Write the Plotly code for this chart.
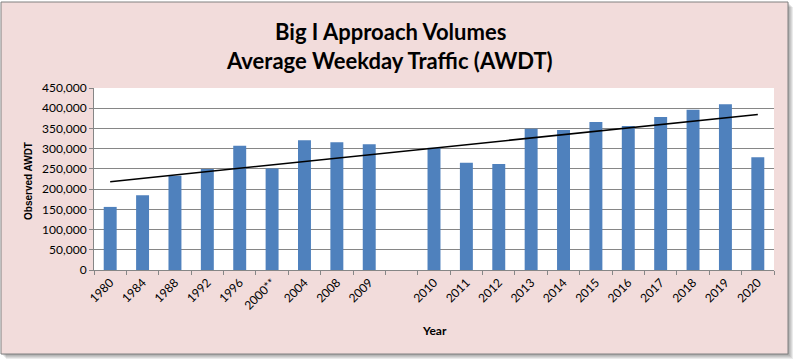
import numpy as np
import plotly.graph_objects as go

# ---- data ----
years = ["1980", "1984", "1988", "1992", "1996", "2000**", "2004", "2008", "2009", " ",
         "2010", "2011", "2012", "2013", "2014", "2015", "2016", "2017", "2018", "2019", "2020"]
awdt = [156000, 185000, 233000, 250000, 307000, 251000, 321000, 316000, 311000, None,
        302000, 265000, 262000, 349000, 346000, 366000, 356000, 378000, 396000, 410000, 279000]
y_ticks = [0, 50000, 100000, 150000, 200000, 250000, 300000, 350000, 400000, 450000]

# linear trendline (least squares over category index, blank excluded)
idx = np.arange(len(years))
mask = np.array([v is not None for v in awdt])
vals = np.array([v if v is not None else np.nan for v in awdt], dtype=float)
slope, icpt = np.polyfit(idx[mask], vals[mask], 1)
trend = (slope * idx + icpt).tolist()

# ---- layout geometry (pixels) ----
W, H = 796, 361
L, R, T, B = 94, 774, 88, 270
pw, ph = R - L, B - T

def px(x):
    return (x - L) / pw

def py(y):
    return (B - y) / ph

fig = go.Figure()
fig.add_trace(go.Bar(x=years, y=awdt, marker=dict(color="#4F81BD", line=dict(width=0)),
                     showlegend=False, hoverinfo="x+y"))
fig.add_trace(go.Scatter(x=years, y=trend, mode="lines", line=dict(color="#000000", width=1.5),
                         showlegend=False, hoverinfo="skip"))

shapes = []
# drop shadow
for k in range(1, 6):
    shapes.append(dict(type="rect", xref="paper", yref="paper", layer="below",
                       x0=px(1 + k), x1=px(788 + k), y0=py(354 + k), y1=py(2 + k),
                       fillcolor="rgba(0,0,0,0.08)", line=dict(width=0)))
# chart box
shapes.append(dict(type="rect", xref="paper", yref="paper", layer="below",
                   x0=px(1), x1=px(788), y0=py(354), y1=py(2),
                   fillcolor="#F2DCDB", line=dict(color="#808080", width=1)))
# plot area
shapes.append(dict(type="rect", xref="paper", yref="paper", layer="below",
                   x0=0, x1=1, y0=0, y1=1, fillcolor="#FFFFFF", line=dict(width=0)))

title_font = dict(family="Lato", size=22, color="#000000")
annotations = [
    dict(text="<b>Big I Approach Volumes</b>", xref="paper", yref="paper",
         x=px(390), y=py(31), xanchor="center", yanchor="middle", showarrow=False,
         font=title_font),
    dict(text="<b>Average Weekday Traffic (AWDT)</b>", xref="paper", yref="paper",
         x=px(389), y=py(60), xanchor="center", yanchor="middle", showarrow=False,
         font=title_font),
    dict(text="<b>Observed AWDT</b>", xref="paper", yref="paper", textangle=-90,
         x=px(28), y=py(181), xanchor="center", yanchor="middle", showarrow=False,
         font=dict(family="Liberation Sans", size=10, color="#000000")),
    dict(text="<b>Year</b>", xref="paper", yref="paper",
         x=px(434), y=py(330), xanchor="center", yanchor="middle", showarrow=False,
         font=dict(family="Lato", size=12, color="#000000")),
]

fig.update_layout(
    width=W, height=H,
    margin=dict(l=L, r=W - R, t=T, b=H - B, pad=0),
    paper_bgcolor="#FFFFFF", plot_bgcolor="#FFFFFF",
    bargap=0.6,
    shapes=shapes, annotations=annotations,
    font=dict(family="Lato", size=12, color="#000000"),
    xaxis=dict(type="category", categoryorder="array", categoryarray=years,
               tickangle=-45, tickson="boundaries", ticks="outside", ticklen=4,
               tickcolor="#868686", showline=True, linecolor="#868686", linewidth=1,
               showgrid=False, tickfont=dict(family="Lato", size=12), fixedrange=True),
    yaxis=dict(range=[0, 450000], tickvals=y_ticks, tickformat=",", ticks="outside",
               ticklen=4, tickcolor="#868686", showline=True, linecolor="#868686",
               linewidth=1, showgrid=True, gridcolor="#868686", gridwidth=1,
               zeroline=False, tickfont=dict(family="Lato", size=12), fixedrange=True),
)

fig.write_html("out.html", config={"displayModeBar": False},
               post_script="document.body.style.margin='0';document.body.style.overflow='hidden';")
